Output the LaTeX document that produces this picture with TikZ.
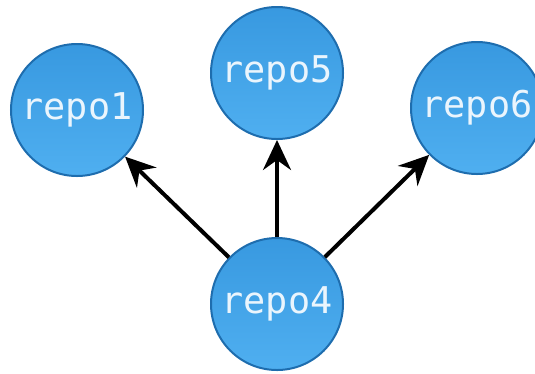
\documentclass[tikz,border=0pt]{standalone}
\usepackage{fontspec}
\setmonofont{DejaVu Sans Mono}
\usetikzlibrary{arrows.meta}
\definecolor{repotop}{HTML}{3899E0}
\definecolor{repobot}{HTML}{4FAFF0}
\definecolor{repoedge}{HTML}{1E6DAE}
\definecolor{repotext}{HTML}{EAF5FD}
\begin{document}
\begin{tikzpicture}[x=1bp,y=-1bp,
  repo/.style={circle, minimum size=132bp, inner sep=0pt, draw=repoedge,
    line width=2bp, top color=repotop, bottom color=repobot,
    text=repotext, font=\ttfamily\fontsize{37}{40}\selectfont},
  link/.style={-{Stealth[length=30bp,width=28bp,inset=10bp]}, line width=4bp, draw=black}]
  \useasboundingbox (0,0) rectangle (535,373);
  \node[repo] (r1) at (77,110) {repo1};
  \node[repo] (r5) at (277,73) {repo5};
  \node[repo] (r6) at (477,108) {repo6};
  \node[repo] (r4) at (277,304) {repo4};
  \draw[link] (r4) -- (r1);
  \draw[link] (r4) -- (r5);
  \draw[link] (r4) -- (r6);
\end{tikzpicture}
\end{document}
